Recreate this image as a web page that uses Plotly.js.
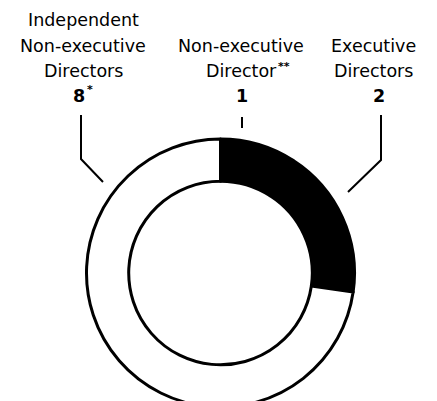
<!DOCTYPE html>
<html>
<head>
<meta charset="utf-8">
<script src="https://cdn.plot.ly/plotly-3.0.1.min.js"></script>
<style>
  html, body { margin: 0; padding: 0; overflow: hidden; background: #fff; }
  #board { width: 437px; height: 410px; }
</style>
</head>
<body>
<div id="board"></div>
<script>
// board composition, clockwise from 12 o'clock
const groups = ["Non-executive Director", "Executive Directors", "Independent Non-executive Directors"];
const counts = [1, 2, 8];
const sliceColors = ["#000000", "#000000", "#ffffff"];

// label lines above the ring (the count goes on the last row, bold)
const labelLines = [
  ["Non-executive", "Director"],
  ["Executive", "Directors"],
  ["Independent", "Non-executive", "Directors"]
];
const footnoteMarks = ["**", "", "*"];

const W = 437, H = 410;
function px(x) { return x / W; }
function py(y) { return 1 - y / H; }

// ring: centre (220.5, 273), radius ~134
const cx = 220.5, cy = 273, r = 134;

let trace = {
  type: "pie",
  labels: groups,
  values: counts,
  sort: false,
  direction: "clockwise",
  rotation: 0,
  hole: 0.685,
  textinfo: "none",
  hoverinfo: "label+value",
  marker: {colors: sliceColors, line: {color: "#000", width: 3}},
  domain: {x: [px(cx - r), px(cx + r)], y: [py(cy + r), py(cy - r)]},
  showlegend: false
};

const fam = "DejaVu Sans, sans-serif";
const lineY = [20, 46, 71, 96];   // centre of each text row
const groupX = [241, 373, 83];
const countX = [242, 379, 79];

let annos = [];
function addText(x, y, text, size, anchor) {
  annos.push({x: px(x), y: py(y), xref: "paper", yref: "paper",
    xanchor: anchor || "center", yanchor: "middle", showarrow: false,
    text: text, font: {family: fam, size: size, color: "#000"}});
}

labelLines.forEach(function(lines, g) {
  let first = 4 - (lines.length + 1);
  lines.forEach(function(t, i) { addText(groupX[g], lineY[first + i], t, 17.5); });
  addText(countX[g], lineY[3], "<b>" + counts[g] + "</b>", 17.5);
});
// footnote marks
addText(276, 66, "<b>" + footnoteMarks[0] + "</b>", 11, "left");
addText(85, 90, "<b>" + footnoteMarks[2] + "</b>", 11, "left");

function pathOf(pts) {
  return pts.map(function(p, i) { return (i ? "L" : "M") + px(p[0]) + "," + py(p[1]); }).join(" ");
}

let leaders = [
  [[81, 115], [81, 159], [103, 182]],
  [[242, 117], [242, 128]],
  [[381, 115], [381, 160], [348, 192]]
].map(function(pts) {
  return {type: "path", xref: "paper", yref: "paper", path: pathOf(pts),
    line: {color: "#000", width: 2}};
});

let layout = {
  width: W,
  height: H,
  margin: {l: 0, r: 0, t: 0, b: 0},
  paper_bgcolor: "#fff",
  annotations: annos,
  shapes: leaders
};

Plotly.newPlot("board", [trace], layout, {displayModeBar: false, staticPlot: true});
</script>
</body>
</html>
